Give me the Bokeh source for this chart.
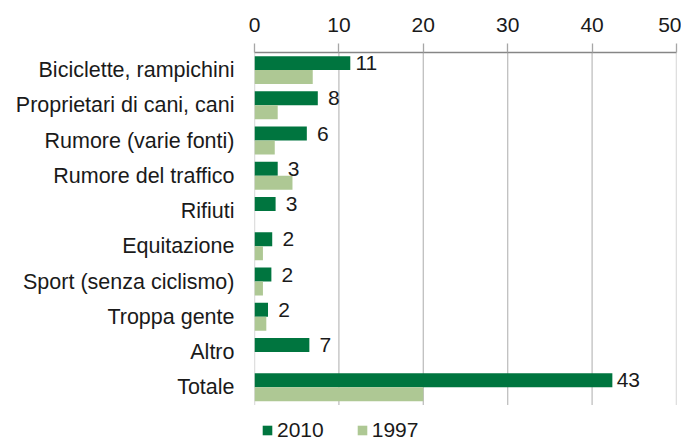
from bokeh.plotting import figure
from bokeh.models import (Range1d, ColumnDataSource, Legend, LegendItem, FixedTicker)
from bokeh.core.properties import value
from bokeh.embed import file_html
from bokeh.resources import INLINE

categories = ["Biciclette, rampichini", "Proprietari di cani, cani", "Rumore (varie fonti)",
              "Rumore del traffico", "Rifiuti", "Equitazione", "Sport (senza ciclismo)",
              "Troppa gente", "Altro", "Totale"]
v2010 = [11.35, 7.5, 6.2, 2.75, 2.5, 2.1, 2.0, 1.6, 6.5, 42.4]
v1997 = [6.9, 2.75, 2.4, 4.5, 0.0, 1.0, 1.0, 1.4, 0.0, 20.0]
labels2010 = ["11", "8", "6", "3", "3", "2", "2", "2", "7", "43"]
series = ["2010", "1997"]
x_ticks = [0, 10, 20, 30, 40, 50]

FONT = "Liberation Sans, Arial, sans-serif"
C2010 = "#00753F"
C1997 = "#AEC894"
TXT = "#1a1a1a"
GRID = "#bfbfbf"

n = len(categories)
pos = [n - 1 - i for i in range(n)]          # first category on top
bw = 0.397
src = dict(pos=pos, cat=categories, v2010=v2010, v1997=v1997, lab=labels2010,
           y10=[q + bw / 2 for q in pos], y97=[q - bw / 2 for q in pos])
src = ColumnDataSource(src)

p = figure(width=681, height=443,
           y_range=Range1d(-1.595, n - 0.5),
           x_range=Range1d(0, 50),
           x_axis_location="above",
           output_backend="svg", toolbar_location=None,
           min_border_left=254, min_border_right=5,
           min_border_top=52, min_border_bottom=0)

# vertical gridlines limited to the category band
p.segment(x0=x_ticks, x1=x_ticks, y0=[-0.5] * len(x_ticks), y1=[n - 0.5] * len(x_ticks),
          line_color=GRID, line_width=1.3)

r1 = p.hbar(y="y10", right="v2010", left=0, height=bw, source=src,
            fill_color=C2010, line_color=None)
r2 = p.hbar(y="y97", right="v1997", left=0, height=bw, source=src,
            fill_color=C1997, line_color=None)

p.text(x="v2010", y="y10", text="lab", source=src,
       x_offset=16, text_align="center", text_baseline="middle",
       text_font=value("Liberation Sans"), text_font_size="21px", text_color=TXT)

# top axis
xa = p.xaxis[0]
xa.ticker = FixedTicker(ticks=x_ticks)
xa.axis_line_color = "#868686"
xa.axis_line_width = 1.5
xa.major_tick_line_color = "#a6a6a6"
xa.major_tick_line_width = 1.3
xa.major_tick_out = 9
xa.major_tick_in = 0
xa.minor_tick_line_color = None
xa.major_label_standoff = 12
xa.major_label_text_font = FONT
xa.major_label_text_font_size = "21px"
xa.major_label_text_color = TXT

# category axis
ya = p.yaxis[0]
ya.ticker = FixedTicker(ticks=pos)
ya.major_label_overrides = {q: c for q, c in zip(pos, categories)}
ya.axis_line_color = None
ya.major_tick_line_color = None
ya.minor_tick_line_color = None
ya.major_tick_out = 0
ya.major_tick_in = 0
ya.major_label_standoff = 20
ya.major_label_text_font = FONT
ya.major_label_text_font_size = "21.5px"
ya.major_label_text_color = TXT

p.xgrid.grid_line_color = None
p.ygrid.grid_line_color = None
p.outline_line_color = None
p.background_fill_color = "white"
p.border_fill_color = "white"

legend = Legend(items=[LegendItem(label=series[0], renderers=[r1]),
                       LegendItem(label=series[1], renderers=[r2])],
                orientation="horizontal", location=(7, 1),
                glyph_width=12, glyph_height=12, label_standoff=4, spacing=32,
                padding=0, margin=0, border_line_alpha=0, background_fill_alpha=0,
                label_text_font=FONT, label_text_font_size="21px",
                label_text_color=TXT, label_height=20)
p.add_layout(legend, "center")

open("out.html", "w").write(file_html(p, INLINE))
